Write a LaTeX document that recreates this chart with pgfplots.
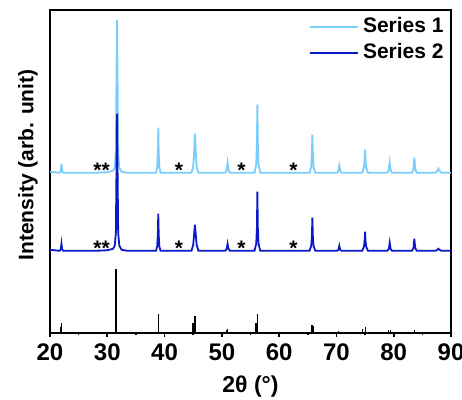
\documentclass[border=0pt]{standalone}
\usepackage{fontspec}
\setmainfont{Liberation Sans}
\usepackage{pgfplots}
\pgfplotsset{compat=1.18}
\definecolor{serA}{RGB}{120,205,250}
\definecolor{serB}{RGB}{10,25,200}

\begin{document}
\begin{tikzpicture}
\begin{axis}[
  name=main,
  scale only axis, width=200.5pt, height=161.4pt,
  xmin=20, xmax=90, ymin=0, ymax=322.7,
  xtick={20,30,...,90}, minor x tick num=1,
  xtick pos=lower, tick align=outside,
  major tick length=2pt, minor tick length=1.2pt,
  ytick=\empty,
  axis line style={line width=1pt},
  every tick/.style={black, line width=0.8pt},
  tick label style={font=\fontsize{12}{14}\selectfont\bfseries},
  /pgf/number format/assume math mode=true,
  xlabel={2θ (°)}, ylabel={Intensity (arb. unit)},
  label style={font=\fontsize{10.5}{12}\selectfont\bfseries},
  xlabel style={font=\fontsize{11.5}{13}\selectfont\bfseries,
    at={(axis description cs:0.5,0)}, anchor=center, yshift=-27pt},
  ylabel style={at={(axis description cs:-0.055,0.52)}, anchor=center},
  legend style={at={(rel axis cs:1,1)}, anchor=north east, draw=none, fill=none,
    xshift=1.5pt, yshift=0.5pt,
    font=\fontsize{10.5}{12}\selectfont\bfseries, row sep=0pt},
  legend cell align=left,
  legend image code/.code={\draw[#1, line width=1pt] (0pt,0pt) -- (24pt,0pt);},
]
% Series 1 (offset upper pattern)
\addplot[serA, line width=0.9pt] coordinates {
 (20,161) (21.6,160)
 (21.7,160) (21.9,162) (22.0,169) (22.1,162) (22.3,160)
 (28,160) (30,160.5) (31.0,162) (31.3,165) (31.5,180) (31.6,250) (31.7,313) (31.8,250) (31.9,180) (32.1,165) (32.5,161) (33.5,160)
 (38.5,160) (38.7,165) (38.82,180) (38.9,205) (38.98,180) (39.1,165) (39.3,160)
 (44.7,160) (45.0,166) (45.15,180) (45.3,199) (45.45,180) (45.6,166) (45.9,160)
 (50.6,160) (50.85,163) (51.0,170) (51.15,163) (51.4,160)
 (55.7,160) (56.0,168) (56.12,190) (56.2,228) (56.28,190) (56.4,168) (56.7,160)
 (65.3,160) (65.6,166) (65.72,180) (65.8,198) (65.88,180) (66.0,166) (66.3,160)
 (70.1,160) (70.35,162) (70.5,167) (70.65,162) (70.9,160)
 (74.5,160) (74.8,165) (74.92,172) (75.0,183) (75.08,172) (75.2,165) (75.5,160)
 (78.9,160) (79.15,163) (79.3,170) (79.45,163) (79.7,160)
 (83.2,160) (83.45,164) (83.6,175) (83.75,164) (84.0,160)
 (87.3,160) (87.6,162) (87.8,164) (88.0,162) (88.3,160)
 (90,160)
};
\addlegendentry{Series 1}
% Series 2 (offset lower pattern)
\addplot[serB, line width=0.9pt] coordinates {
 (20,83) (21.6,82)
 (21.7,82) (21.9,84) (22.0,89) (22.1,84) (22.3,82)
 (28,82) (30,82.5) (31.0,84) (31.3,87) (31.5,100) (31.6,160) (31.7,219) (31.8,160) (31.9,100) (32.1,87) (32.5,83) (33.5,82)
 (38.5,82) (38.7,86) (38.82,97) (38.9,119) (38.98,97) (39.1,86) (39.3,82)
 (44.7,82) (45.0,88) (45.15,98) (45.3,108) (45.45,98) (45.6,88) (45.9,82)
 (50.6,82) (50.85,84) (51.0,89) (51.15,84) (51.4,82)
 (55.7,82) (56.0,89) (56.12,105) (56.2,141) (56.28,105) (56.4,89) (56.7,82)
 (65.3,82) (65.6,87) (65.72,97) (65.8,115) (65.88,97) (66.0,87) (66.3,82)
 (70.1,82) (70.35,83) (70.5,87) (70.65,83) (70.9,82)
 (74.5,82) (74.8,86) (74.92,92) (75.0,101) (75.08,92) (75.2,86) (75.5,82)
 (78.9,82) (79.15,84) (79.3,90) (79.45,84) (79.7,82)
 (83.2,82) (83.45,85) (83.6,94) (83.75,85) (84.0,82)
 (87.3,82) (87.6,83) (87.8,84) (88.0,83) (88.3,82)
 (90,82)
};
\addlegendentry{Series 2}
% reference sticks
\addplot[ycomb, black, line width=0.7pt, forget plot] coordinates {
 (21.85,6) (22.0,10) (31.5,64) (31.62,38) (38.9,19) (44.95,10) (45.3,17)
 (50.85,3) (51.0,4) (55.98,10) (56.2,19) (65.7,8) (65.9,7) (70.4,2)
 (74.6,4) (75.05,6) (79.1,3) (79.4,3) (83.6,3) (87.8,1)
};
\node[font=\fontsize{10.5}{12}\selectfont\bfseries, anchor=base] at (axis cs:29.0,155) {**};
\node[font=\fontsize{10.5}{12}\selectfont\bfseries, anchor=base] at (axis cs:42.5,155) {*};
\node[font=\fontsize{10.5}{12}\selectfont\bfseries, anchor=base] at (axis cs:53.4,155) {*};
\node[font=\fontsize{10.5}{12}\selectfont\bfseries, anchor=base] at (axis cs:62.5,155) {*};
\node[font=\fontsize{10.5}{12}\selectfont\bfseries, anchor=base] at (axis cs:29.0,77) {**};
\node[font=\fontsize{10.5}{12}\selectfont\bfseries, anchor=base] at (axis cs:42.5,77) {*};
\node[font=\fontsize{10.5}{12}\selectfont\bfseries, anchor=base] at (axis cs:53.4,77) {*};
\node[font=\fontsize{10.5}{12}\selectfont\bfseries, anchor=base] at (axis cs:62.5,77) {*};
\end{axis}
\pgfresetboundingbox
\path ([shift={(-25pt,-33.5pt)}]main.south west) rectangle ([shift={(5.5pt,5pt)}]main.north east);
\end{tikzpicture}
\end{document}
